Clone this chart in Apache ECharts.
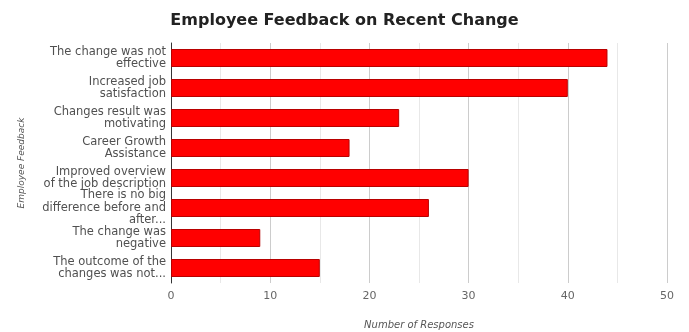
<!DOCTYPE html>
<html style="height: 100%">
<head>
    <meta charset="utf-8">
    <script src="https://cdn.jsdelivr.net/npm/echarts@6/dist/echarts.min.js"></script>
</head>
<body style="height: 100%; margin: 0; background: #fff">
    <div id="main" style="width: 689px; height: 332px"></div>
    <script type="text/javascript">
        // categories, top to bottom
        var categories = [
            'The change was not\neffective',
            'Increased job\nsatisfaction',
            'Changes result was\nmotivating',
            'Career Growth\nAssistance',
            'Improved overview\nof the job description',
            'There is no big\ndifference before and\nafter...',
            'The change was\nnegative',
            'The outcome of the\nchanges was not...'
        ];
        var responses = [44, 40, 23, 18, 30, 26, 9, 15];
        var xTicks = [0, 10, 20, 30, 40, 50];

        var myChart = echarts.init(document.getElementById('main'));

        var option = {
            animation: false,
            title: {
                text: 'Employee Feedback on Recent Change',
                left: 'center',
                top: 8,
                textStyle: {
                    fontFamily: 'DejaVu Sans',
                    fontSize: 16,
                    fontWeight: 'bold',
                    color: '#222'
                }
            },
            grid: {
                left: 171,
                right: 22,
                top: 43,
                bottom: 49,
                outerBoundsMode: 'none'
            },
            xAxis: {
                type: 'value',
                min: xTicks[0],
                max: xTicks[xTicks.length - 1],
                interval: 10,
                name: 'Number of Responses',
                nameLocation: 'middle',
                nameGap: 37,
                nameTextStyle: {
                    fontFamily: 'DejaVu Sans',
                    fontStyle: 'italic',
                    fontSize: 10,
                    color: '#555'
                },
                axisLine: { show: false },
                axisTick: { show: false },
                axisLabel: {
                    fontFamily: 'DejaVu Sans',
                    fontSize: 11,
                    color: '#666',
                    margin: 8
                },
                splitLine: { lineStyle: { color: '#cccccc', width: 1 } },
                minorTick: { show: false, splitNumber: 2 },
                minorSplitLine: { show: true, lineStyle: { color: '#e8e8e8', width: 1 } }
            },
            yAxis: {
                type: 'category',
                data: categories,
                inverse: true,
                name: 'Employee Feedback',
                nameLocation: 'middle',
                nameGap: 145,
                nameRotate: 90,
                nameTextStyle: {
                    fontFamily: 'DejaVu Sans',
                    fontStyle: 'italic',
                    fontSize: 9,
                    color: '#555'
                },
                axisLine: { show: true, lineStyle: { color: '#333', width: 1 } },
                axisTick: { show: false },
                axisLabel: {
                    fontFamily: 'DejaVu Sans',
                    fontSize: 11.5,
                    color: '#505050',
                    lineHeight: 12.5,
                    margin: 5
                }
            },
            series: [{
                type: 'bar',
                data: responses,
                barWidth: 18,
                itemStyle: {
                    color: '#ff0000',
                    borderColor: '#b80000',
                    borderWidth: 1
                }
            }]
        };

        myChart.setOption(option);
    </script>
</body>
</html>
